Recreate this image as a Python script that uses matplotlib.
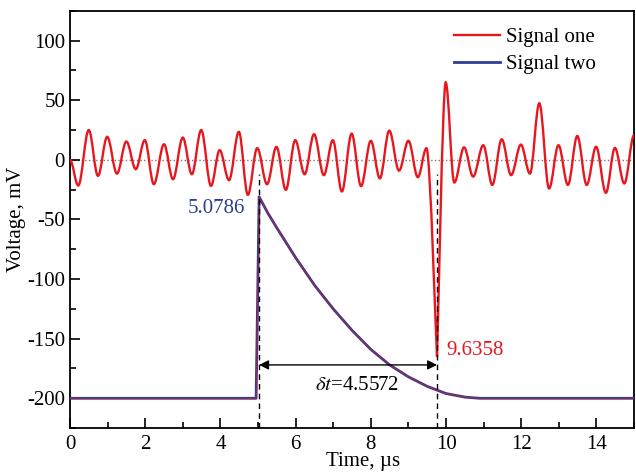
import matplotlib
matplotlib.use("Agg")
import matplotlib.pyplot as plt
from matplotlib.path import Path
from matplotlib.patches import PathPatch
from matplotlib.lines import Line2D

# === data ===
# Signal one: extrema (time in us, voltage in mV)
sig1_t = [0.00, 0.22, 0.50, 0.745, 0.99, 1.25, 1.50, 1.75, 1.99, 2.23,
          2.50, 2.74, 3.00, 3.24, 3.49, 3.75, 3.98, 4.23, 4.49, 4.73,
          4.98, 5.24, 5.49, 5.74, 5.99, 6.24, 6.49, 6.75, 6.99, 7.23,
          7.49, 7.74, 8.00, 8.24, 8.49, 8.75, 9.00, 9.25, 9.48, 9.76,
          9.99, 10.22, 10.48, 10.72, 10.99, 11.23, 11.48, 11.73, 11.99, 12.23,
          12.48, 12.74, 12.99, 13.24, 13.49, 13.74, 13.99, 14.25, 14.49, 14.74,
          15.00]
sig1_v = [0.0, -21.5, 25.0, -13.4, 19.3, -11.5, 15.4, -7.8, 16.5, -20.4,
          13.1, -16.2, 18.7, -12.0, 25.0, -21.8, 8.1, -17.0, 23.5, -29.3,
          9.8, -20.4, 10.9, -25.1, 16.5, -12.0, 21.5, -12.8, 16.5, -26.5,
          22.0, -22.0, 16.0, -15.5, 24.5, -9.0, 16.0, -14.5, 9.8, -165.0,
          65.0, -19.0, 10.5, -14.0, 12.3, -21.0, 17.3, -12.8, 12.8, -11.5,
          47.5, -24.0, 12.3, -21.0, 20.0, -21.0, 11.0, -27.6, 10.0, -19.8,
          20.7]

# Signal two: step and decay
sig2_t = [0.0, 4.95, 5.03, 5.25, 5.5, 6.0, 6.5, 7.0, 7.5, 8.0, 8.5,
          9.0, 9.5, 10.0, 10.5, 10.9, 15.0]
sig2_v = [-200, -200, -31, -44, -57, -82, -105, -125, -143, -159, -172,
          -182, -190, -196, -199, -200, -200]

t_start = 5.03      # marker positions (dashed lines)
t_end = 9.76
label_start = "5.0786"
label_end = "9.6358"
label_dt = r"$\delta t$=4.5572"

RED = "#e8171f"
BLUE = "#2b3d94"

plt.rcParams["font.family"] = ["Liberation Serif", "DejaVu Serif"]
plt.rcParams["mathtext.fontset"] = "stix"
plt.rcParams["axes.unicode_minus"] = False


def smooth_path(ts, vs):
    # cubic segments between extrema, flat tangents at each extremum
    verts = [(ts[0], vs[0])]
    codes = [Path.MOVETO]
    for i in range(len(ts) - 1):
        t0, v0, t1, v1 = ts[i], vs[i], ts[i + 1], vs[i + 1]
        dt = t1 - t0
        k0 = 0.05 if v0 < -100 else 0.36
        k1 = 0.05 if v1 < -100 else 0.36
        verts += [(t0 + k0 * dt, v0), (t1 - k1 * dt, v1), (t1, v1)]
        codes += [Path.CURVE4] * 3
    return Path(verts, codes)


fig = plt.figure(figsize=(6.36, 4.72), dpi=100)
ax = fig.add_axes([0.110, 0.093, 0.887, 0.884])

ax.set_xlim(0, 15)
ax.set_ylim(-225, 125)

ax.axhline(0, color="#777777", ls=":", lw=1.0, zorder=1)

# signal two (with thin red trace on top)
ax.plot(sig2_t, sig2_v, color=BLUE, lw=2.0, zorder=3)
ax.plot(sig2_t, sig2_v, color=RED, lw=0.5, zorder=3.5)

# signal one
ax.add_patch(PathPatch(smooth_path(sig1_t, sig1_v), facecolor="none",
                       edgecolor=RED, lw=1.7, zorder=4))

# markers
for tv in (t_start, t_end):
    ax.plot([tv, tv], [-225, -12], color="black", ls=(0, (4, 3)), lw=1.0, zorder=5)

ax.annotate("", xy=(t_start, -172), xytext=(t_end, -172),
            arrowprops=dict(arrowstyle="<|-|>", color="black", lw=1.0,
                            shrinkA=0, shrinkB=0, mutation_scale=14),
            zorder=6)
ax.text(7.63, -189, label_dt, fontsize=15, ha="center", va="center")
ax.text(4.65, -41, label_start, fontsize=15, ha="right", va="center", color=BLUE)
ax.text(10.0, -160, label_end, fontsize=15, ha="left", va="center", color=RED)

# axes styling
ax.set_xticks(range(0, 16, 2))
ax.set_xticks(range(1, 16, 2), minor=True)
ax.set_yticks(range(-200, 101, 50))
ax.set_yticks(range(-225, 126, 25), minor=True)
ax.tick_params(which="both", direction="in", top=False, right=False,
               labelsize=15, width=1.2)
ax.tick_params(which="major", length=7)
ax.tick_params(which="minor", length=4)
ax.tick_params(axis="x", pad=5)
for sp in ax.spines.values():
    sp.set_linewidth(1.3)

ax.set_xlabel("Time, \u00b5s", fontsize=15)
ax.xaxis.set_label_coords(0.52, -0.058)
ax.set_ylabel("Voltage, mV", fontsize=15)
ax.yaxis.set_label_coords(-0.078, 0.5)

handles = [Line2D([], [], color=RED, lw=1.7), Line2D([], [], color=BLUE, lw=2.0)]
ax.legend(handles, ["Signal one", "Signal two"], loc="upper right",
          bbox_to_anchor=(0.966, 1.005), frameon=False, fontsize=15,
          handlelength=2.2, handletextpad=0.3, labelspacing=0.35)

fig.savefig("out.png", dpi=100)
